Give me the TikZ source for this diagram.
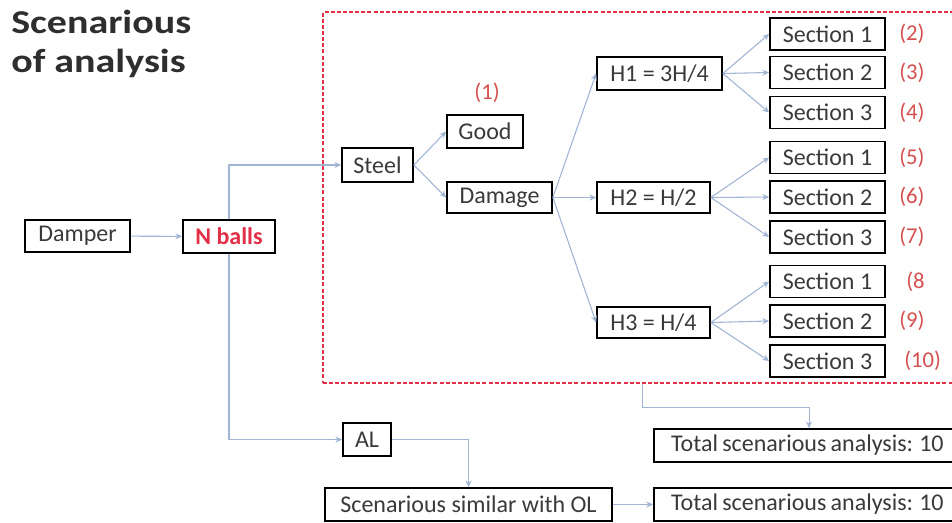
\documentclass[tikz,border=0pt]{standalone}
\usepackage{fontspec}
\setmainfont{Carlito}
\newfontfamily\titlefont[FakeStretch=1.2]{Carlito}
\usetikzlibrary{arrows.meta}
\definecolor{connc}{RGB}{160,180,212}
\definecolor{redd}{RGB}{226,48,72}
\definecolor{labc}{RGB}{214,80,80}
\definecolor{txtc}{RGB}{58,58,58}
\tikzset{
  box/.style={draw=black, line width=1.3pt, fill=white, inner sep=0pt, text=txtc,
    font=\fontsize{18}{20}\selectfont},
  sz/.style 2 args={minimum width=#1*0.75pt, minimum height=#2*0.75pt},
  link/.style={draw=connc, line width=0.8pt, -{Stealth[length=5pt,width=4.5pt]}},
  numlab/.style={text=labc, font=\fontsize{17}{20}\selectfont, inner sep=0pt},
  titletext/.style={text=txtc!80!black, font=\titlefont\bfseries\fontsize{25}{29}\selectfont,
    inner sep=0pt, anchor=base west},
  totalbox/.style={box, sz={305}{33}, anchor=west, align=left, text width=300*0.75pt}
}
\begin{document}
\begin{tikzpicture}[x=0.75pt,y=-0.75pt]
\useasboundingbox[fill=white] (0,0) rectangle (952,522);

% title
\node[titletext] (t1) at (11,33) {Scenarious};
\node[titletext] (t2) at (11,72) {of analysis};

% red dashed frame
\node[draw=redd, line width=1.2pt, dash pattern=on 3pt off 1.6pt, sz={633}{371}, inner sep=0pt] (redbox) at (639.5,197.5) {};

% nodes
\node[box, sz={105}{32}] (damper) at (77.5,236) {Damper};
\node[box, sz={92}{33}, text=redd, font=\bfseries\fontsize{18}{20}\selectfont] (nballs) at (229,236.5) {N balls};
\node[box, sz={71}{34}] (steel) at (377.5,165) {Steel};
\node[box, sz={76}{33}] (good) at (485,131.5) {Good};
\node[box, sz={105}{31}] (damage) at (499.5,197.5) {Damage};
\node[numlab] (l1) at (487,93) {(1)};

\node[box, sz={125}{33}] (h1) at (659.5,73.5) {H1 = 3H/4};
\node[box, sz={113}{31}] (h2) at (653.5,197.5) {H2 = H/2};
\node[box, sz={113}{31}] (h3) at (653.5,322.5) {H3 = H/4};

\node[box, sz={115}{32}] (s1a) at (827.5,34) {Section 1};
\node[box, sz={115}{32}] (s2a) at (827.5,72.5) {Section 2};
\node[box, sz={115}{32}] (s3a) at (827.5,112.5) {Section 3};
\node[box, sz={115}{32}] (s1b) at (827.5,157.5) {Section 1};
\node[box, sz={115}{32}] (s2b) at (827.5,197) {Section 2};
\node[box, sz={115}{32}] (s3b) at (827.5,237) {Section 3};
\node[box, sz={115}{32}] (s1c) at (827.5,281.5) {Section 1};
\node[box, sz={115}{32}] (s2c) at (827.5,321) {Section 2};
\node[box, sz={115}{32}] (s3c) at (827.5,361) {Section 3};

\node[numlab, anchor=west] (l2) at (899,34) {(2)};
\node[numlab, anchor=west] (l3) at (899,72.5) {(3)};
\node[numlab, anchor=west] (l4) at (899,112.5) {(4)};
\node[numlab, anchor=west] (l5) at (899,157.5) {(5)};
\node[numlab, anchor=west] (l6) at (899,197) {(6)};
\node[numlab, anchor=west] (l7) at (899,237) {(7)};
\node[numlab, anchor=west] (l8) at (906,281.5) {(8};
\node[numlab, anchor=west] (l9) at (899,321) {(9)};
\node[numlab, anchor=west] (l10) at (904,361) {(10)};

\node[box, sz={48}{33}] (al) at (367,439.5) {AL};
\node[box, sz={287}{33}] (similar) at (468.5,504.5) {Scenarious similar with OL};
\node[box, sz={305}{33}, anchor=west] (total1) at (653,445.5) {\hspace*{9.5pt}\spaceskip=0.18em Total scenarious analysis: 10\hspace*{8pt}};
\node[box, sz={305}{33}, anchor=west] (total2) at (653,504.5) {\hspace*{9.5pt}\spaceskip=0.18em Total scenarious analysis: 10\hspace*{8pt}};

% connectors
\draw[link] (damper) -- (nballs);
\draw[link] (nballs.north) |- (steel.west);
\draw[link] (nballs.south) |- (al.west);
\draw[link] (steel.east) -- (good.west);
\draw[link] (steel.east) -- (damage.west);
\draw[link] (damage.east) -- (h1.west);
\draw[link] (damage.east) -- (h2.west);
\draw[link] (damage.east) -- (h3.west);
\foreach \h/\g in {h1/a, h2/b, h3/c}{
  \draw[link] (\h.east) -- (s1\g.west);
  \draw[link] (\h.east) -- (s2\g.west);
  \draw[link] (\h.east) -- (s3\g.west);
}
\draw[link] (al.east) -| (similar.north);
\draw[link] (similar.east) -- (total2.west);
\draw[link] ([xshift=2.5pt]redbox.south) -- ++(0,24) -| ([xshift=2pt]total1.north);
\end{tikzpicture}
\end{document}
